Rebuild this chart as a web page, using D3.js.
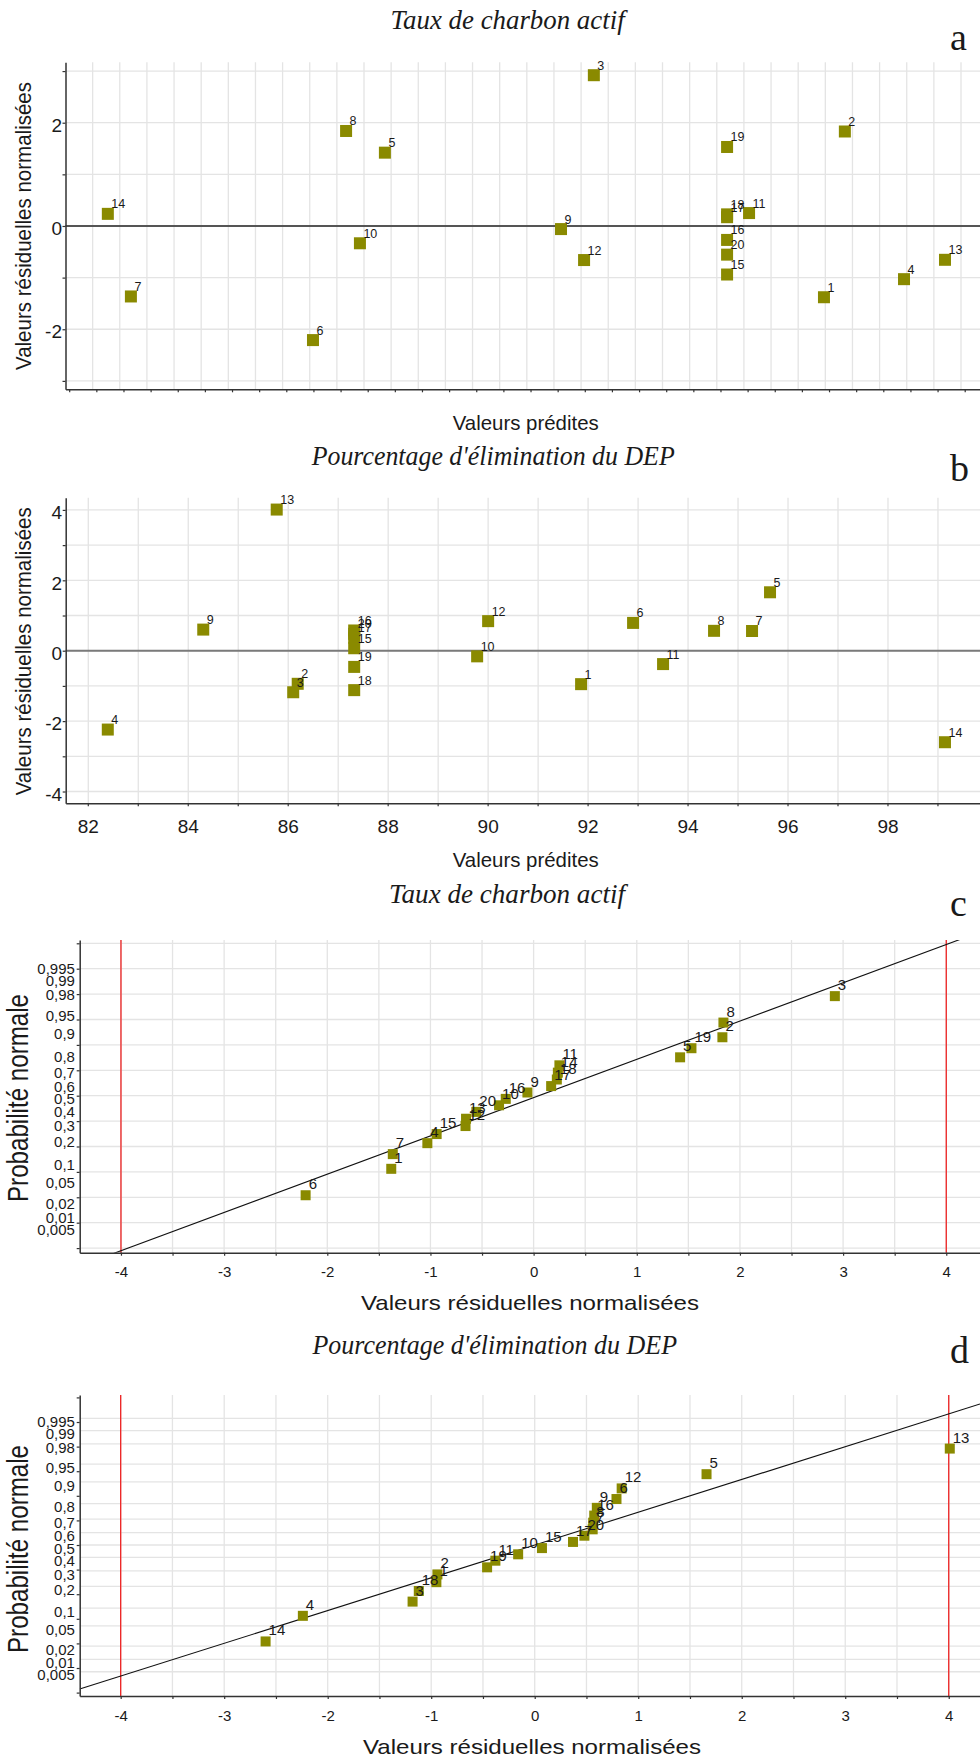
<!DOCTYPE html>
<html lang="fr">
<head>
<meta charset="utf-8">
<script src="https://cdn.jsdelivr.net/npm/d3@7"></script>
<style>
  html, body { margin: 0; padding: 0; background: #ffffff; }
  svg { display: block; }
  text { font-family: "Liberation Sans", Arial, sans-serif; fill: #1a1a1a; }
  .serif { font-family: "Liberation Serif", "Times New Roman", serif; }
</style>
</head>
<body>
<script>
// ---------------------------------------------------------------
// Essais 1 à 20
const runs = [1, 2, 3, 4, 5, 6, 7, 8, 9, 10, 11, 12, 13, 14, 15, 16, 17, 18, 19, 20];

// Taux de charbon actif : valeurs prédites, résidus normalisés, probabilité normale
const carbonPredicted = [2.795, 2.872, 1.947, 3.090, 1.177, 0.912, 0.241, 1.034, 1.826, 1.085,
                         2.519, 1.911, 3.241, 0.156, 2.438, 2.438, 2.438, 2.438, 2.438, 2.438];
const carbonResidual  = [-1.38, 1.83, 2.92, -1.03, 1.42, -2.21, -1.365, 1.84, -0.06, -0.335,
                         0.25, -0.66, -0.655, 0.235, -0.94, -0.27, 0.17, 0.225, 1.53, -0.555];
const carbonNormalProb = [0.075, 0.875, 0.975, 0.175, 0.775, 0.025, 0.125, 0.925, 0.525, 0.425,
                          0.725, 0.275, 0.325, 0.675, 0.225, 0.475, 0.575, 0.625, 0.825, 0.375];

// Pourcentage d'élimination du DEP
const depPredicted = [91.86, 86.19, 86.10, 82.39, 95.64, 92.90, 95.28, 94.52, 84.30, 89.78,
                      93.50, 90.00, 85.77, 99.14, 87.32, 87.32, 87.32, 87.32, 87.32, 87.32];
const depResidual  = [-0.95, -0.94, -1.18, -2.24, 1.66, 0.79, 0.56, 0.565, 0.60, -0.16,
                      -0.38, 0.84, 4.01, -2.60, 0.07, 0.575, 0.37, -1.12, -0.46, 0.48];
const depNormalProb = [0.225, 0.275, 0.125, 0.075, 0.925, 0.825, 0.625, 0.675, 0.775, 0.425,
                       0.375, 0.875, 0.975, 0.025, 0.475, 0.725, 0.525, 0.175, 0.325, 0.575];

// Graduations
const residualTicksA = [-3, -2, -1, 0, 1, 2, 3];
const residualTicksB = [-4, -3, -2, -1, 0, 1, 2, 3, 4];
const depPredictedTicks = [82, 83, 84, 85, 86, 87, 88, 89, 90, 91, 92, 93, 94, 95, 96, 97, 98, 99];
const carbonPredictedTicks = d3.range(1, 34).map(k => k / 10);
const probTicks = [0.005, 0.01, 0.02, 0.05, 0.1, 0.2, 0.3, 0.4, 0.5, 0.6, 0.7, 0.8, 0.9, 0.95, 0.98, 0.99, 0.995];
const probTickLabels = ["0,005", "0,01", "0,02", "0,05", "0,1", "0,2", "0,3", "0,4", "0,5",
                        "0,6", "0,7", "0,8", "0,9", "0,95", "0,98", "0,99", "0,995"];
const residualProbTicks = [-4, -3.5, -3, -2.5, -2, -1.5, -1, -0.5, 0, 0.5, 1, 1.5, 2, 2.5, 3, 3.5, 4];
const residualProbLabels = [-4, -3, -2, -1, 0, 1, 2, 3, 4];
const normalScoreTicks = [-3, -2.5, -2, -1.5, -1, -0.5, 0, 0.5, 1, 1.5, 2, 2.5, 3];

// Droites de Henry : [ordonnée à l'origine, pente] en score normal
const carbonLine = [-0.038, 0.7535];
const depLine = [0.0, 0.666];
// Limites ±4
const limitLines = [-4, 4];

// ---------------------------------------------------------------
// Quantile de la loi normale centrée réduite (algorithme d'Acklam)
function qnorm(p) {
  const a = [-3.969683028665376e+01, 2.209460984245205e+02, -2.759285104469687e+02,
             1.383577518672690e+02, -3.066479806614716e+01, 2.506628277459239e+00];
  const b = [-5.447609879822406e+01, 1.615858368580409e+02, -1.556989798598866e+02,
             6.680131188771972e+01, -1.328068155288572e+01];
  const c = [-7.784894002430293e-03, -3.223964580411365e-01, -2.400758277161838e+00,
             -2.549732539343734e+00, 4.374664141464968e+00, 2.938163982698783e+00];
  const d = [7.784695709041462e-03, 3.224671290700398e-01, 2.445134137142996e+00,
             3.754408661907416e+00];
  const pl = 0.02425, ph = 1 - pl;
  let q, r;
  if (p < pl) {
    q = Math.sqrt(-2 * Math.log(p));
    return (((((c[0]*q+c[1])*q+c[2])*q+c[3])*q+c[4])*q+c[5]) / ((((d[0]*q+d[1])*q+d[2])*q+d[3])*q+1);
  }
  if (p <= ph) {
    q = p - 0.5; r = q * q;
    return (((((a[0]*r+a[1])*r+a[2])*r+a[3])*r+a[4])*r+a[5])*q / (((((b[0]*r+b[1])*r+b[2])*r+b[3])*r+b[4])*r+1);
  }
  q = Math.sqrt(-2 * Math.log(1 - p));
  return -(((((c[0]*q+c[1])*q+c[2])*q+c[3])*q+c[4])*q+c[5]) / ((((d[0]*q+d[1])*q+d[2])*q+d[3])*q+1);
}

const svg = d3.select("body").append("svg").attr("width", 980).attr("height", 1761);

const GRID = "#e4e4e4";
const AXIS = "#333333";
const MARK = "#8a8a00";

function label(parent, o) {
  const g = parent.append("g").attr("transform", o.transform);
  const t = g.append("text")
    .attr("class", o.cls || null)
    .attr("x", 0).attr("y", 0)
    .attr("text-anchor", o.anchor || "start")
    .style("font-size", o.size + "px")
    .style("font-style", o.italic ? "italic" : null)
    .text(o.text);
  if (o.len) t.attr("textLength", o.len).attr("lengthAdjust", "spacingAndGlyphs");
  return t;
}

function styleAxis(g) {
  g.attr("color", AXIS);
  g.select(".domain").attr("stroke-width", 1.5);
  g.selectAll(".tick line").attr("stroke-width", 1.2);
}

// ---------------------------------------------------------------
// Graphe des résidus en fonction des valeurs prédites
function residualPanel(o) {
  const g = svg.append("g");
  const x = d3.scaleLinear().domain(o.xDomain).range([o.left, o.right]);
  const y = d3.scaleLinear().domain(o.yDomain).range([o.bottom, o.top]);

  g.append("g").selectAll("line").data(o.xGrid).join("line")
    .attr("x1", d => x(d)).attr("x2", d => x(d))
    .attr("y1", o.top).attr("y2", o.bottom)
    .attr("stroke", GRID).attr("stroke-width", 1.3);
  g.append("g").selectAll("line").data(o.yTicks).join("line")
    .attr("x1", o.left).attr("x2", o.right)
    .attr("y1", d => y(d)).attr("y2", d => y(d))
    .attr("stroke", GRID).attr("stroke-width", 1.3);

  // Ligne du zéro
  g.append("line")
    .attr("x1", o.left).attr("x2", o.right)
    .attr("y1", y(0)).attr("y2", y(0))
    .attr("stroke", o.zeroColor).attr("stroke-width", 2);

  // Axe des ordonnées
  const ya = g.append("g").attr("transform", `translate(${o.left},0)`)
    .call(d3.axisLeft(y).tickValues(o.yTicks).tickSize(3).tickSizeOuter(0).tickPadding(0.5)
      .tickFormat(d => d % 2 === 0 ? String(d) : ""));
  styleAxis(ya);
  ya.selectAll(".tick text").style("font-size", "19px").attr("dy", "0.46em").attr("fill", "#1a1a1a");

  // Axe des abscisses
  const xa = g.append("g").attr("transform", `translate(0,${o.bottom})`)
    .call(d3.axisBottom(x).tickValues(o.xTicks).tickSize(3).tickSizeOuter(0).tickPadding(13)
      .tickFormat(o.xFormat));
  styleAxis(xa);
  xa.selectAll(".tick").attr("transform", d => `translate(${x(d) + o.tickShift},0)`);
  xa.selectAll(".tick text").style("font-size", "19px").attr("fill", "#1a1a1a");

  // Points
  const pts = runs.map((r, i) => ({ run: r, px: x(o.pred[i]), py: y(o.res[i]) }));
  g.append("g").selectAll("rect").data(pts).join("rect")
    .attr("x", d => d.px - 6).attr("y", d => d.py - 6)
    .attr("width", 12).attr("height", 12)
    .attr("fill", MARK);
  g.append("g").selectAll("text").data(pts).join("text")
    .attr("x", d => d.px + 3.5).attr("y", d => d.py - 5.5)
    .style("font-size", "12.5px").attr("fill", "#222")
    .text(d => d.run);

  // Titres
  label(svg, { transform: `translate(${o.titleX},${o.titleY})`, text: o.title, size: 26.5,
               cls: "serif", italic: true, len: o.titleLen });
  label(svg, { transform: `translate(950,${o.letterY})`, text: o.letter, size: 38, cls: "serif" });
  label(svg, { transform: `translate(452.7,${o.xTitleY})`, text: "Valeurs prédites", size: 21, len: 146 });
  label(svg, { transform: `translate(30.5,${o.yTitleY}) rotate(-90) scale(1,1.05)`,
               text: "Valeurs résiduelles normalisées", size: 21, anchor: "middle", len: 288 });
}

// ---------------------------------------------------------------
// Droite de Henry (probabilité normale)
function probabilityPanel(o) {
  const g = svg.append("g");
  const x = d3.scaleLinear().domain(o.xDomain).range([o.left, o.right]);
  const y = d3.scaleLinear().domain(o.zDomain).range([o.bottom, o.top]);

  const clipId = "clip-" + o.letter;
  svg.append("defs").append("clipPath").attr("id", clipId)
    .append("rect").attr("x", o.left).attr("y", o.top)
    .attr("width", o.right - o.left).attr("height", o.bottom - o.top);

  g.append("g").selectAll("line").data(residualProbTicks.filter(d => d >= o.xDomain[0] && d <= o.xDomain[1])).join("line")
    .attr("x1", d => x(d)).attr("x2", d => x(d))
    .attr("y1", o.top).attr("y2", o.bottom)
    .attr("stroke", GRID).attr("stroke-width", 1.3);
  g.append("g").selectAll("line").data(o.hGrid).join("line")
    .attr("x1", o.left).attr("x2", o.right)
    .attr("y1", d => y(d)).attr("y2", d => y(d))
    .attr("stroke", GRID).attr("stroke-width", 1.3);

  // Limites ±4
  g.append("g").selectAll("line").data(limitLines).join("line")
    .attr("x1", d => x(d)).attr("x2", d => x(d))
    .attr("y1", o.top).attr("y2", o.bottom)
    .attr("stroke", "#ee2222").attr("stroke-width", 1.3);

  // Droite de référence
  const lineData = o.xDomain.map(v => [x(v), y(o.line[0] + o.line[1] * v)]);
  g.append("path").attr("clip-path", `url(#${clipId})`)
    .attr("d", d3.line()(lineData))
    .attr("fill", "none").attr("stroke", "#111").attr("stroke-width", 1.1);

  // Axe des ordonnées : graduations en score normal
  const ya = g.append("g").attr("transform", `translate(${o.left},0)`)
    .call(d3.axisLeft(y).tickValues(normalScoreTicks).tickSize(3).tickSizeOuter(0).tickFormat(""));
  styleAxis(ya);
  // Étiquettes de probabilité
  const yl = g.append("g").attr("transform", `translate(${o.left},0)`)
    .call(d3.axisLeft(y).tickValues(probTicks.map(qnorm)).tickSize(0).tickPadding(4.8)
      .tickFormat((d, i) => probTickLabels[i]));
  yl.select(".domain").remove();
  yl.selectAll(".tick text").style("font-size", "15px").attr("dy", "0.55em").attr("fill", "#1a1a1a");

  // Axe des abscisses
  const xa = g.append("g").attr("transform", `translate(0,${o.bottom})`)
    .call(d3.axisBottom(x).tickValues(residualProbTicks).tickSize(3).tickSizeOuter(0).tickPadding(11)
      .tickFormat(d => residualProbLabels.includes(d) ? String(d) : ""));
  styleAxis(xa);
  xa.selectAll(".tick text").style("font-size", "15px").attr("fill", "#1a1a1a");

  // Points
  const pts = runs.map((r, i) => ({ run: r, px: x(o.res[i]), py: y(qnorm(o.prob[i])) }));
  g.append("g").selectAll("rect").data(pts).join("rect")
    .attr("x", d => d.px - 5).attr("y", d => d.py - 5)
    .attr("width", 10).attr("height", 10)
    .attr("fill", MARK);
  g.append("g").selectAll("text").data(pts).join("text")
    .attr("x", d => d.px + 3).attr("y", d => d.py - 6)
    .style("font-size", "15px").attr("fill", "#1a1a1a")
    .text(d => d.run);

  // Titres
  label(svg, { transform: `translate(${o.titleX},${o.titleY})`, text: o.title, size: 26.5,
               cls: "serif", italic: true, len: o.titleLen });
  label(svg, { transform: `translate(950,${o.letterY})`, text: o.letter, size: 38, cls: "serif" });
  label(svg, { transform: `translate(${o.xTitleX},${o.xTitleY})`, text: "Valeurs résiduelles normalisées",
               size: 21, len: 338 });
  label(svg, { transform: `translate(28,${o.yTitleY}) rotate(-90) scale(1,1.15)`,
               text: "Probabilité normale", size: 25, anchor: "middle", len: 208 });
}

// ---------------------------------------------------------------
residualPanel({
  letter: "a", title: "Taux de charbon actif", titleX: 390.6, titleY: 29.3, titleLen: 234, letterY: 50,
  left: 65.5, right: 980, top: 62.3, bottom: 389.3,
  xDomain: [0, 3.37], yDomain: [-3.163, 3.17],
  xGrid: carbonPredictedTicks, xTicks: [0].concat(carbonPredictedTicks), tickShift: 4.2, xFormat: () => "",
  yTicks: residualTicksA, zeroColor: "#555555",
  pred: carbonPredicted, res: carbonResidual,
  xTitleY: 430, yTitleY: 226
});

residualPanel({
  letter: "b", title: "Pourcentage d'élimination du DEP", titleX: 311.7, titleY: 465, titleLen: 363, letterY: 481,
  left: 65.7, right: 980, top: 497.7, bottom: 803.3,
  xDomain: [81.548, 99.841], yDomain: [-4.335, 4.347],
  xGrid: depPredictedTicks, xTicks: depPredictedTicks, tickShift: 0,
  xFormat: d => d % 2 === 0 ? String(d) : "",
  yTicks: residualTicksB, zeroColor: "#7a7a7a",
  pred: depPredicted, res: depResidual,
  xTitleY: 866.7, yTitleY: 651.3
});

probabilityPanel({
  letter: "c", title: "Taux de charbon actif", titleX: 389, titleY: 903.3, titleLen: 236, letterY: 915.7,
  left: 79.7, right: 980, top: 940, bottom: 1252.7,
  xDomain: [-4.40, 4.327], zDomain: [-3.091, 3.065],
  hGrid: normalScoreTicks,
  line: carbonLine, res: carbonResidual, prob: carbonNormalProb,
  xTitleX: 361, xTitleY: 1310, yTitleY: 1098
});

probabilityPanel({
  letter: "d", title: "Pourcentage d'élimination du DEP", titleX: 312.5, titleY: 1354.3, titleLen: 364.5, letterY: 1363.3,
  left: 79.7, right: 980, top: 1395, bottom: 1696,
  xDomain: [-4.396, 4.302], zDomain: [-3.069, 3.049],
  hGrid: probTicks.map(qnorm),
  line: depLine, res: depResidual, prob: depNormalProb,
  xTitleX: 363, xTitleY: 1754, yTitleY: 1549
});
</script>
</body>
</html>
